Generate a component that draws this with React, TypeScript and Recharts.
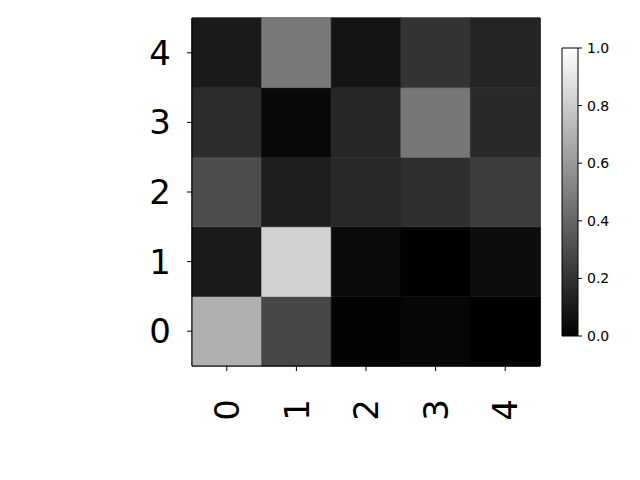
import React from "react";
import { BarChart, Bar, Cell, XAxis, YAxis, ReferenceArea } from "recharts";

// cell values, row index = y category (0 at bottom), column = x category
const colLabels = ["0", "1", "2", "3", "4"];
const row0 = [0.69, 0.278, 0.012, 0.024, 0.0];
const row1 = [0.102, 0.82, 0.039, 0.004, 0.051];
const row2 = [0.302, 0.118, 0.157, 0.184, 0.235];
const row3 = [0.173, 0.035, 0.153, 0.467, 0.161];
const row4 = [0.102, 0.475, 0.078, 0.2, 0.141];
const rows = [row0, row1, row2, row3, row4];
const yTicks = [0.5, 1.5, 2.5, 3.5, 4.5];
const cbTicks = [0, 0.2, 0.4, 0.6, 0.8, 1.0];

const FONT = "DejaVu Sans";

const gray = (v: number) => {
  const g = Math.round(Math.max(0, Math.min(1, v)) * 255);
  return `rgb(${g},${g},${g})`;
};

// each column of the heatmap is a stack of five unit-height bars
const data = colLabels.map((c) => {
  const d: Record<string, any> = { x: c };
  rows.forEach((_, r) => {
    d[`r${r}`] = 1;
  });
  return d;
});

const cbData = [{ name: "cb", v: 1 }];

function XTick(props: any) {
  const { x, y, payload } = props;
  const ty = y + 26;
  return (
    <text
      x={x}
      y={ty}
      transform={`rotate(-90, ${x}, ${ty})`}
      textAnchor="end"
      dy="0.36em"
      fontSize={34}
      fontFamily={FONT}
      fill="#000"
    >
      {payload.value}
    </text>
  );
}

export default function App() {
  return (
    <div
      style={{
        position: "absolute",
        left: 0,
        top: 0,
        width: 640,
        height: 480,
        background: "#fff",
      }}
    >
      <div style={{ position: "absolute", left: 0, top: 0 }}>
        <BarChart
          width={640}
          height={480}
          data={data}
          margin={{ top: 18, right: 100, bottom: 54, left: 132 }}
          barCategoryGap={0}
          barGap={0}
        >
          <XAxis
            dataKey="x"
            height={60}
            axisLine={{ stroke: "#000" }}
            tickLine={{ stroke: "#000" }}
            tickSize={5}
            tick={<XTick />}
            interval={0}
          />
          <YAxis
            type="number"
            domain={[0, 5]}
            ticks={yTicks}
            width={60}
            axisLine={{ stroke: "#000" }}
            tickLine={{ stroke: "#000" }}
            tickSize={5}
            tickMargin={16}
            tickFormatter={(v: number) => String(Math.floor(v))}
            tick={{ fontSize: 34, fontFamily: FONT, fill: "#000" }}
            interval={0}
          />
          {rows.map((vals, r) => (
            <Bar
              key={r}
              dataKey={`r${r}`}
              stackId="a"
              isAnimationActive={false}
            >
              {vals.map((v, i) => (
                <Cell key={i} fill={gray(v)} stroke={gray(v)} strokeWidth={0.6} />
              ))}
            </Bar>
          ))}
          <ReferenceArea
            x1="0"
            x2="4"
            y1={0}
            y2={5}
            fill="none"
            stroke="#000"
            strokeWidth={1}
            fillOpacity={0}
            ifOverflow="visible"
          />
        </BarChart>
      </div>
      <div style={{ position: "absolute", left: 0, top: 0 }}>
        <BarChart
          width={640}
          height={480}
          data={cbData}
          margin={{ top: 48, right: 22, bottom: 144, left: 562 }}
          barCategoryGap={0}
        >
          <defs>
            <linearGradient id="cbGrad" x1="0" y1="1" x2="0" y2="0">
              <stop offset="0%" stopColor="#000" />
              <stop offset="100%" stopColor="#fff" />
            </linearGradient>
          </defs>
          <XAxis dataKey="name" hide />
          <YAxis
            orientation="right"
            type="number"
            domain={[0, 1]}
            ticks={cbTicks}
            width={40}
            axisLine={false}
            tickLine={{ stroke: "#000" }}
            tickSize={4}
            tickMargin={5}
            tickFormatter={(v: number) => v.toFixed(1)}
            tick={{ fontSize: 14, fontFamily: FONT, fill: "#000" }}
            interval={0}
          />
          <Bar
            dataKey="v"
            fill="url(#cbGrad)"
            stroke="#000"
            strokeWidth={1}
            isAnimationActive={false}
          />
        </BarChart>
      </div>
    </div>
  );
}
